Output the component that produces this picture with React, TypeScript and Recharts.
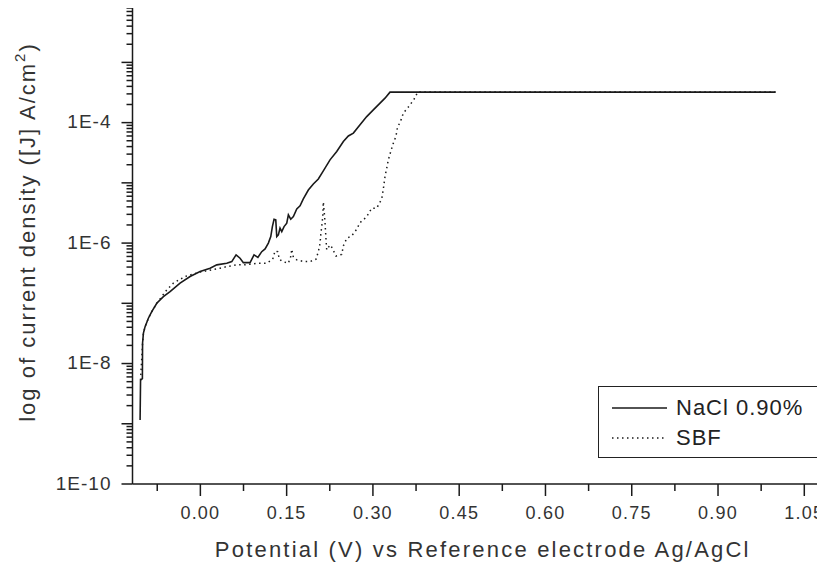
import React from 'react';
import { LineChart, Line, XAxis, YAxis, Legend, Label } from 'recharts';

const FONT = '"Liberation Sans", Arial, Helvetica, sans-serif';
const INK = '#1a1a1a';

// NaCl 0.90% : potential (V) and current density (A/cm2)
const naclPotential = [
  -0.1048, -0.104, -0.1008, -0.1005, -0.099, -0.0961, -0.0904, -0.0845, -0.0758, -0.0643,
  -0.0527, -0.0353, -0.0179, -0.0005, 0.0169, 0.0285, 0.0459, 0.0546, 0.0621, 0.069,
  0.0747, 0.0864, 0.0933, 0.1, 0.1067, 0.1125, 0.1182, 0.1224, 0.1252, 0.1281,
  0.1311, 0.1328, 0.1356, 0.1385, 0.1415, 0.1455, 0.1502, 0.153, 0.1571, 0.1617,
  0.1676, 0.1733, 0.179, 0.1877, 0.1964, 0.2051, 0.2138, 0.2254, 0.2371, 0.2486,
  0.2573, 0.266, 0.2776, 0.2892, 0.3007, 0.3124, 0.321, 0.3297, 1.0,
];
const naclCurrent = [
  1.16e-9, 5.3e-9, 5.6e-9, 2.2e-8, 3.2e-8, 4.1e-8, 5.65e-8, 7.3e-8, 1.0e-7, 1.29e-7,
  1.56e-7, 2.16e-7, 2.78e-7, 3.37e-7, 3.83e-7, 4.35e-7, 4.63e-7, 4.93e-7, 6.37e-7, 5.6e-7,
  4.74e-7, 4.74e-7, 6.37e-7, 5.8e-7, 7.2e-7, 8.0e-7, 1.0e-6, 1.28e-6, 1.88e-6, 2.49e-6,
  2.43e-6, 1.28e-6, 1.37e-6, 1.77e-6, 1.55e-6, 1.88e-6, 2.14e-6, 2.94e-6, 2.49e-6, 2.75e-6,
  3.7e-6, 4.15e-6, 5.4e-6, 7.6e-6, 9.6e-6, 1.16e-5, 1.58e-5, 2.41e-5, 3.31e-5, 4.85e-5,
  6.0e-5, 6.7e-5, 9.2e-5, 1.26e-4, 1.63e-4, 2.11e-4, 2.55e-4, 3.21e-4, 3.21e-4,
];

// SBF : potential (V) and current density (A/cm2)
const sbfPotential = [
  -0.104, -0.1005, -0.099, -0.0961, -0.0904, -0.0845, -0.0758, -0.0584, -0.0469, -0.0353,
  -0.0236, -0.0005, 0.0342, 0.0459, 0.0633, 0.0777, 0.1008, 0.1154, 0.1258, 0.1298,
  0.1345, 0.1373, 0.1432, 0.153, 0.1571, 0.1589, 0.1617, 0.1676, 0.1802, 0.1907,
  0.2011, 0.2051, 0.2081, 0.2093, 0.211, 0.2128, 0.2138, 0.2155, 0.2168, 0.2185,
  0.2197, 0.2254, 0.2284, 0.2359, 0.2458, 0.2486, 0.2545, 0.2632, 0.2719, 0.2776,
  0.2833, 0.2892, 0.2979, 0.3066, 0.3153, 0.3181, 0.321, 0.324, 0.3268, 0.331,
  0.3355, 0.3402, 0.3424, 0.3489, 0.3529, 0.3633, 0.3715, 0.3779, 1.0,
];
const sbfCurrent = [
  5.3e-9, 2.2e-8, 3.2e-8, 4.1e-8, 5.65e-8, 7.3e-8, 1.0e-7, 1.67e-7, 2.16e-7, 2.51e-7,
  2.85e-7, 3.3e-7, 3.83e-7, 4.07e-7, 4.35e-7, 4.35e-7, 4.63e-7, 4.63e-7, 5.4e-7, 7.4e-7,
  7.2e-7, 5.4e-7, 4.93e-7, 4.63e-7, 5.97e-7, 7.9e-7, 5.8e-7, 5.26e-7, 4.93e-7, 4.93e-7,
  5.4e-7, 7.2e-7, 9.96e-7, 1.37e-6, 1.88e-6, 2.75e-6, 4.83e-6, 3.15e-6, 2.14e-6, 1.13e-6,
  7.7e-7, 9.3e-7, 8.55e-7, 6.1e-7, 6.5e-7, 8.98e-7, 1.2e-6, 1.32e-6, 1.7e-6, 2.19e-6,
  2.43e-6, 2.75e-6, 3.8e-6, 3.8e-6, 5.4e-6, 7.9e-6, 1.27e-5, 1.75e-5, 2.41e-5, 3.31e-5,
  4.56e-5, 6.0e-5, 8.1e-5, 1.11e-4, 1.44e-4, 1.9e-4, 2.45e-4, 3.21e-4, 3.21e-4,
];

const seriesNames = ['NaCl 0.90%', 'SBF'];
const seriesDash = ['', '1.5 3.5'];

const xMajorTicks = [0, 0.15, 0.3, 0.45, 0.6, 0.75, 0.9, 1.05];
const xMinorTicks = [-0.075, 0.075, 0.225, 0.375, 0.525, 0.675, 0.825, 0.975];
const xDomain: [number, number] = [-0.118, 1.086];

const yLabelTicks = [1e-10, 1e-8, 1e-6, 1e-4];
const yLabelTexts = ['1E-10', '1E-8', '1E-6', '1E-4'];
const yDecades = [-10, -9, -8, -7, -6, -5, -4, -3];
const yMultipliers = [1, 2, 3, 4, 5, 6, 7, 8, 9];
const yDomain: [number, number] = [1e-10, 8e-3];

const naclData = naclPotential.map((v, i) => ({ v, j: naclCurrent[i] }));
const sbfData = sbfPotential.map((v, i) => ({ v, j: sbfCurrent[i] }));

const xTicksAll = [...xMajorTicks, ...xMinorTicks].sort((a, b) => a - b);
const yTicksAll = yDecades
  .flatMap((d) => yMultipliers.map((m) => m * Math.pow(10, d)))
  .filter((t) => t <= yDomain[1] * 1.0001);

const XTick = (props: any) => {
  const { x, y, payload } = props;
  const v = payload.value;
  const idx = xMajorTicks.findIndex((t) => Math.abs(t - v) < 1e-6);
  const len = idx >= 0 ? 12 : 7;
  return (
    <g>
      <line x1={x} x2={x} y1={y} y2={y + len} stroke={INK} strokeWidth={1.5} />
      {idx >= 0 && (
        <text
          x={x}
          y={y + 35}
          textAnchor="middle"
          fontFamily={FONT}
          fontSize={18}
          letterSpacing={1.2}
          fill="#333"
        >
          {xMajorTicks[idx].toFixed(2)}
        </text>
      )}
    </g>
  );
};

const YTick = (props: any) => {
  const { x, y, payload } = props;
  const v = payload.value;
  const lg = Math.log10(v);
  const decade = Math.abs(lg - Math.round(lg)) < 1e-6;
  const idx = yLabelTicks.findIndex((t) => Math.abs(Math.log10(t) - lg) < 1e-6);
  const len = decade ? 11 : 6;
  return (
    <g>
      <line x1={x - len} x2={x} y1={y} y2={y} stroke={INK} strokeWidth={1.5} />
      {idx >= 0 && (
        <text
          x={x - 21}
          y={y}
          dy="0.3em"
          textAnchor="end"
          fontFamily={FONT}
          fontSize={19}
          letterSpacing={1}
          fill="#333"
        >
          {yLabelTexts[idx]}
        </text>
      )}
    </g>
  );
};

const XTitle = (props: any) => {
  const vb = props.viewBox || { x: 0, y: 0, width: 0, height: 0 };
  return (
    <text
      x={vb.x + vb.width / 2 + 4}
      y={vb.y + 73}
      textAnchor="middle"
      fontFamily={FONT}
      fontSize={22}
      letterSpacing={2.2}
      fill="#333"
    >
      Potential (V) vs Reference electrode Ag/AgCl
    </text>
  );
};

const YTitle = (props: any) => {
  const vb = props.viewBox || { x: 0, y: 0, width: 0, height: 0 };
  const cx = vb.x + 27;
  const cy = vb.y + vb.height / 2 - 14;
  return (
    <text
      x={cx}
      y={cy}
      transform={`rotate(-90, ${cx}, ${cy})`}
      textAnchor="middle"
      fontFamily={FONT}
      fontSize={22}
      letterSpacing={2}
      fill="#333"
    >
      log of current density ([J] A/cm
      <tspan dy={-10} fontSize={15}>2</tspan>
      <tspan dy={10}>)</tspan>
    </text>
  );
};

const LegendBox = (props: any) => {
  const payload: any[] = props.payload && props.payload.length ? props.payload : [];
  const items = seriesNames.map((name, i) => {
    const p = payload.find((e) => e.value === name);
    const dash = p && p.payload && p.payload.strokeDasharray !== undefined ? p.payload.strokeDasharray : seriesDash[i];
    return { name, dash };
  });
  return (
    <div
      style={{
        boxSizing: 'border-box',
        width: 220,
        height: 72,
        border: '1.5px solid #222',
        background: '#fff',
        position: 'relative',
        fontFamily: FONT,
      }}
    >
      {items.map((it, i) => (
        <div
          key={it.name}
          style={{ position: 'absolute', left: 0, top: i === 0 ? 6 : 36, height: 30, display: 'flex', alignItems: 'center' }}
        >
          <svg width={77} height={30} style={{ display: 'block' }}>
            <line x1={13} x2={68} y1={15} y2={15} stroke={INK} strokeWidth={1.6} strokeDasharray={it.dash || undefined} />
          </svg>
          <span style={{ fontSize: 22, letterSpacing: 1, color: '#222', whiteSpace: 'nowrap', lineHeight: '30px' }}>{it.name}</span>
        </div>
      ))}
    </div>
  );
};

export default function App() {
  return (
    <div style={{ width: 817, height: 558, background: '#fff' }}>
      <LineChart width={817} height={558} margin={{ top: 0, right: 0, bottom: 0, left: 0 }}>
        <XAxis
          xAxisId="x"
          dataKey="v"
          type="number"
          domain={xDomain}
          allowDataOverflow
          ticks={xTicksAll}
          interval={0}
          tickSize={0}
          tickMargin={0}
          tickLine={false}
          tick={<XTick />}
          axisLine={{ stroke: INK, strokeWidth: 1.5 }}
          height={82}
        >
          <Label content={<XTitle />} />
        </XAxis>
        <YAxis
          yAxisId="y"
          type="number"
          scale="log"
          domain={yDomain}
          allowDataOverflow
          ticks={yTicksAll}
          interval={0}
          tickSize={0}
          tickMargin={0}
          tickLine={false}
          tick={<YTick />}
          axisLine={{ stroke: INK, strokeWidth: 1.5 }}
          width={124.5}
        >
          <Label content={<YTitle />} />
        </YAxis>
        <Legend
          layout="vertical"
          verticalAlign="middle"
          align="center"
          wrapperStyle={{ position: 'absolute', left: 590, top: 378, width: 220, height: 72, margin: 0, padding: 0 }}
          content={<LegendBox />}
        />
        <Line
          xAxisId="x"
          yAxisId="y"
          data={naclData}
          dataKey="j"
          name={seriesNames[0]}
          type="linear"
          stroke={INK}
          strokeWidth={1.6}
          dot={false}
          isAnimationActive={false}
        />
        <Line
          xAxisId="x"
          yAxisId="y"
          data={sbfData}
          dataKey="j"
          name={seriesNames[1]}
          type="linear"
          stroke={INK}
          strokeWidth={1.5}
          strokeDasharray={seriesDash[1]}
          dot={false}
          isAnimationActive={false}
        />
      </LineChart>
    </div>
  );
}
